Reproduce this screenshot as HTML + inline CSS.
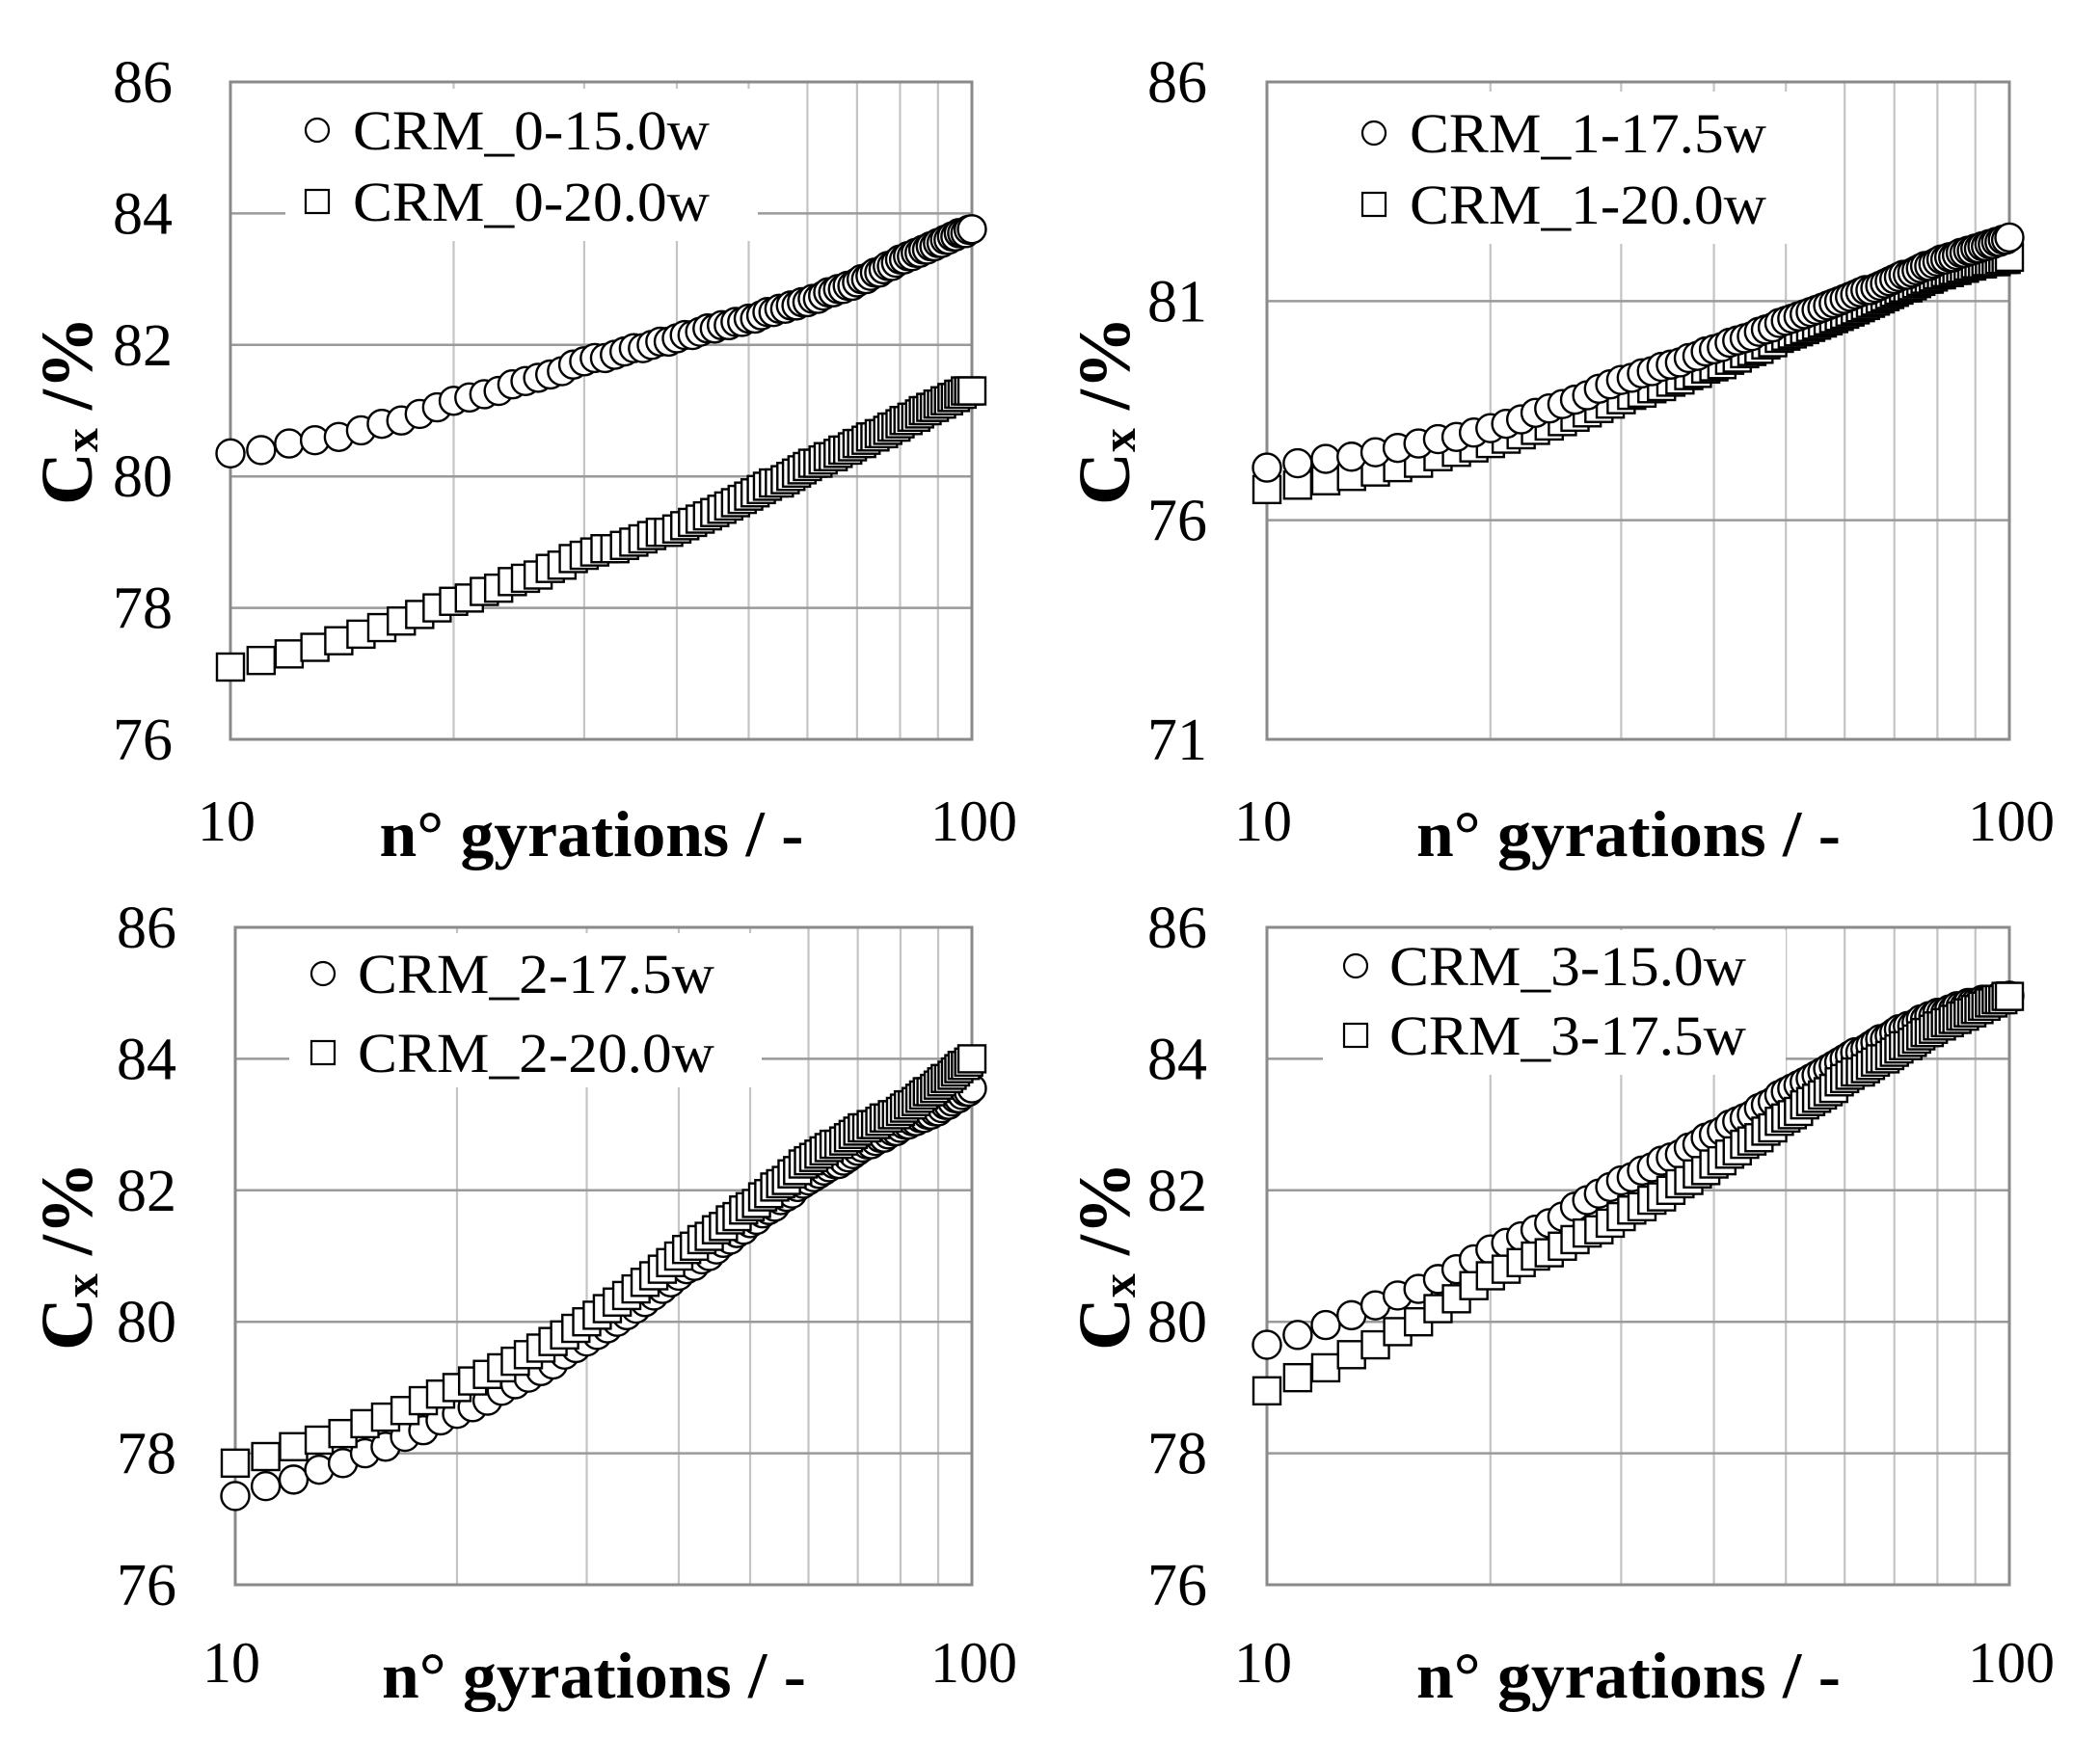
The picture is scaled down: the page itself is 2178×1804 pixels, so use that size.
<!DOCTYPE html>
<html><head><meta charset="utf-8"><style>
html,body{margin:0;padding:0;background:#fff}
svg{display:block}
text{font-family:"Liberation Serif",serif;fill:#000}
</style></head>
<body>
<svg id="fig" width="2178" height="1804" viewBox="0 0 2178 1804" xmlns="http://www.w3.org/2000/svg"></svg>
<script>
const gyrations = Array.from({length:91},(_, i)=>10+i);
const p1Circle=[80.35,80.4,80.5,80.55,80.6,80.7,80.8,80.85,80.95,81.05,81.15,81.2,81.25,81.3,81.4,81.45,81.5,81.55,81.6,81.7,81.75,81.8,81.8,81.85,81.9,81.95,81.95,82.0,82.05,82.05,82.1,82.15,82.15,82.2,82.25,82.25,82.3,82.3,82.35,82.35,82.4,82.4,82.45,82.5,82.5,82.55,82.55,82.6,82.6,82.65,82.65,82.7,82.7,82.75,82.8,82.8,82.85,82.85,82.9,82.9,82.95,83.0,83.0,83.05,83.1,83.1,83.15,83.2,83.2,83.25,83.3,83.3,83.35,83.35,83.4,83.4,83.45,83.45,83.5,83.5,83.55,83.55,83.6,83.6,83.65,83.65,83.7,83.7,83.7,83.75,83.76];
const p1Square=[77.1,77.2,77.3,77.4,77.5,77.6,77.7,77.8,77.9,78.0,78.1,78.15,78.25,78.3,78.4,78.45,78.5,78.6,78.65,78.75,78.8,78.85,78.9,78.9,78.95,79.0,79.05,79.1,79.15,79.15,79.2,79.25,79.3,79.35,79.4,79.45,79.5,79.55,79.6,79.65,79.7,79.75,79.8,79.85,79.9,79.9,79.95,80.0,80.05,80.1,80.15,80.2,80.2,80.25,80.3,80.3,80.35,80.4,80.4,80.45,80.5,80.5,80.55,80.6,80.6,80.65,80.65,80.7,80.75,80.75,80.8,80.85,80.85,80.9,80.9,80.95,81.0,81.0,81.05,81.05,81.1,81.1,81.15,81.15,81.2,81.2,81.25,81.25,81.3,81.3,81.3];
const p2Circle=[77.2,77.3,77.4,77.45,77.55,77.65,77.75,77.85,77.9,78.0,78.1,78.2,78.3,78.45,78.55,78.65,78.75,78.85,79.0,79.1,79.2,79.25,79.35,79.4,79.5,79.55,79.6,79.7,79.75,79.85,79.9,79.95,80.05,80.1,80.15,80.2,80.3,80.35,80.4,80.5,80.55,80.6,80.65,80.7,80.75,80.8,80.85,80.9,80.95,81.0,81.05,81.1,81.15,81.2,81.25,81.25,81.3,81.35,81.4,81.45,81.5,81.55,81.6,81.6,81.65,81.7,81.75,81.8,81.8,81.85,81.9,81.95,81.95,82.0,82.0,82.05,82.1,82.1,82.15,82.15,82.2,82.2,82.25,82.25,82.3,82.3,82.35,82.35,82.4,82.4,82.45];
const p2Square=[76.7,76.8,76.9,77.0,77.1,77.2,77.3,77.45,77.55,77.65,77.75,77.85,77.95,78.05,78.15,78.25,78.35,78.45,78.55,78.65,78.75,78.85,78.9,79.0,79.05,79.15,79.2,79.3,79.35,79.45,79.5,79.55,79.65,79.7,79.8,79.85,79.9,80.0,80.05,80.15,80.2,80.25,80.3,80.35,80.4,80.45,80.5,80.55,80.6,80.65,80.7,80.75,80.8,80.85,80.9,80.95,81.0,81.05,81.1,81.15,81.2,81.25,81.3,81.3,81.35,81.4,81.45,81.5,81.5,81.55,81.6,81.6,81.65,81.65,81.7,81.7,81.75,81.75,81.8,81.8,81.85,81.85,81.85,81.9,81.9,81.9,81.9,81.95,81.95,81.95,82.0];
const p3Circle=[77.35,77.5,77.6,77.75,77.85,78.0,78.1,78.25,78.35,78.5,78.6,78.7,78.8,78.95,79.05,79.15,79.25,79.35,79.5,79.6,79.7,79.8,79.9,80.0,80.1,80.2,80.3,80.4,80.5,80.6,80.7,80.8,80.85,80.95,81.0,81.1,81.2,81.25,81.35,81.4,81.5,81.55,81.65,81.7,81.75,81.85,81.9,81.95,82.05,82.1,82.15,82.2,82.25,82.3,82.35,82.4,82.4,82.45,82.5,82.55,82.6,82.65,82.7,82.7,82.75,82.8,82.8,82.85,82.9,82.9,82.95,83.0,83.0,83.05,83.05,83.1,83.1,83.15,83.15,83.2,83.2,83.25,83.3,83.3,83.35,83.4,83.4,83.45,83.5,83.5,83.55];
const p3Square=[77.85,77.95,78.1,78.2,78.3,78.45,78.55,78.65,78.8,78.9,79.0,79.1,79.2,79.3,79.4,79.5,79.6,79.7,79.8,79.9,80.0,80.1,80.2,80.3,80.4,80.5,80.6,80.7,80.8,80.9,81.0,81.1,81.15,81.25,81.3,81.4,81.45,81.55,81.6,81.7,81.75,81.8,81.9,81.95,82.05,82.1,82.15,82.25,82.3,82.4,82.45,82.5,82.55,82.6,82.65,82.7,82.7,82.75,82.8,82.85,82.9,82.95,82.95,83.0,83.0,83.05,83.1,83.1,83.15,83.15,83.2,83.25,83.3,83.3,83.35,83.4,83.45,83.5,83.5,83.55,83.6,83.65,83.7,83.7,83.75,83.8,83.85,83.9,83.9,83.95,84.0];
const p4Circle=[79.65,79.8,79.95,80.1,80.25,80.4,80.5,80.65,80.8,80.95,81.1,81.2,81.3,81.4,81.5,81.6,81.75,81.85,81.95,82.05,82.15,82.2,82.3,82.35,82.45,82.5,82.55,82.65,82.7,82.8,82.85,82.9,83.0,83.05,83.1,83.15,83.25,83.3,83.35,83.45,83.5,83.55,83.6,83.65,83.7,83.75,83.8,83.85,83.9,83.95,84.0,84.05,84.1,84.1,84.15,84.2,84.25,84.3,84.3,84.35,84.4,84.45,84.45,84.5,84.5,84.55,84.6,84.6,84.65,84.65,84.7,84.7,84.7,84.75,84.75,84.8,84.8,84.8,84.85,84.85,84.85,84.85,84.9,84.9,84.9,84.9,84.9,84.95,84.95,84.95,84.96];
const p4Square=[78.95,79.15,79.3,79.5,79.65,79.85,80.0,80.2,80.35,80.55,80.7,80.8,80.9,81.0,81.05,81.15,81.25,81.35,81.4,81.5,81.6,81.7,81.75,81.85,81.9,82.0,82.1,82.15,82.25,82.3,82.4,82.45,82.55,82.6,82.7,82.75,82.8,82.9,82.95,83.05,83.1,83.15,83.2,83.3,83.35,83.4,83.45,83.5,83.55,83.65,83.7,83.75,83.8,83.8,83.85,83.9,83.95,84.0,84.0,84.05,84.1,84.15,84.2,84.2,84.25,84.3,84.35,84.4,84.4,84.45,84.5,84.5,84.55,84.55,84.6,84.6,84.65,84.65,84.7,84.7,84.75,84.75,84.8,84.8,84.85,84.85,84.9,84.9,84.9,84.95,84.95];
const yTicksA=[76,78,80,82,84,86];
const yTicksB=[71,76,81,86];
const xTickLabels=["10","100"];
const legendNames=[["CRM_0-15.0w","CRM_0-20.0w"],["CRM_1-17.5w","CRM_1-20.0w"],["CRM_2-17.5w","CRM_2-20.0w"],["CRM_3-15.0w","CRM_3-17.5w"]];

const NS="http://www.w3.org/2000/svg";
const svg=document.getElementById('fig');
function mk(tag,attrs,parent){const e=document.createElementNS(NS,tag);for(const k in attrs)e.setAttribute(k,attrs[k]);(parent||svg).appendChild(e);return e;}

const panels=[
 {x0:239,x1:1008,y0:85,y1:767,ymin:76,ymax:86,ticks:yTicksA,circ:p1Circle,sq:p1Square,lab:179,ytx:70,leg:[329,135,366,209],names:legendNames[0],box:[296,92,490,158],xl:872,xt:888},
 {x0:1314,x1:2084,y0:85,y1:767,ymin:71,ymax:86,ticks:yTicksB,circ:p2Circle,sq:p2Square,lab:1252,ytx:1146,leg:[1425,138,1462,212],names:legendNames[1],box:[1392,95,490,158],xl:872,xt:888},
 {x0:244,x1:1008,y0:962,y1:1644,ymin:76,ymax:86,ticks:yTicksA,circ:p3Circle,sq:p3Square,lab:183,ytx:70,leg:[335,1010,371,1092],names:legendNames[2],box:[300,968,490,160],xl:1745,xt:1761},
 {x0:1314,x1:2084,y0:962,y1:1644,ymin:76,ymax:86,ticks:yTicksA,circ:p4Circle,sq:p4Square,lab:1252,ytx:1146,leg:[1406,1002,1441,1074],names:legendNames[3],box:[1372,965,480,150],xl:1745,xt:1761}
];

panels.forEach((p,pi)=>{
  const g=mk('g',{});
  
  
  const xs=v=>p.x0+(Math.log10(v)-1)*(p.x1-p.x0);
  const ys=v=>p.y1-(v-p.ymin)/(p.ymax-p.ymin)*(p.y1-p.y0);
  for(let n=20;n<=90;n+=10){
    const l=mk('line',{x1:xs(n),x2:xs(n),y1:p.y0,y2:p.y1,stroke:'#c4c4c4','stroke-width':2.2},g);
    
    
  }
  p.ticks.forEach(t=>{
    const l=mk('line',{x1:p.x0,x2:p.x1,y1:ys(t),y2:ys(t),stroke:'#9a9a9a','stroke-width':2.5},g);
    
    
    const tx=mk('text',{x:p.lab,y:ys(t)+21,'text-anchor':'end','font-size':62},g);
    tx.textContent=t;
    
    
  });
  const fr=mk('rect',{x:p.x0,y:p.y0,width:p.x1-p.x0,height:p.y1-p.y0,fill:'none',stroke:'#8a8a8a','stroke-width':3},g);
  
  
  xTickLabels.forEach((s,i)=>{
    const t=mk('text',{x:i?p.x1+2:p.x0-4,y:p.xl,'text-anchor':'middle','font-size':60},g);
    t.textContent=s;
    
    
  });
  const xt=mk('text',{x:(p.x0+p.x1)/2-10,y:p.xt,'text-anchor':'middle','font-size':68,'font-weight':'bold',textLength:440,lengthAdjust:'spacingAndGlyphs'},g);
  xt.textContent='n° gyrations / -';
  
  
  const cy=(p.y0+p.y1)/2;
  const yt=mk('text',{x:p.ytx,y:cy,transform:`rotate(-90 ${p.ytx} ${cy})`,'text-anchor':'middle','font-size':76,'font-weight':'bold','dominant-baseline':'central'},g);
  yt.innerHTML='C<tspan font-size="50" dy="14">x</tspan><tspan dy="-14"> /%</tspan>';
  
  
  const lg=mk('g',{},g);
  
  
  mk('rect',{x:p.box[0],y:p.box[1],width:p.box[2],height:p.box[3],fill:'#fff'},lg);
  const [cx,c1y,tx0,c2y]=p.leg;
  const lc=mk('circle',{cx:cx,cy:c1y,r:12,fill:'#fff',stroke:'#000','stroke-width':2.2},lg);
  
  
  const ls=mk('rect',{x:cx-12,y:c2y-12,width:24,height:24,fill:'#fff',stroke:'#000','stroke-width':2.2},lg);
  
  
  [c1y,c2y].forEach((yy,i)=>{
    const t=mk('text',{x:tx0,y:yy+20,'font-size':58,textLength:370,lengthAdjust:'spacingAndGlyphs'},lg);
    t.textContent=p.names[i];
    
    
  });
  const sg=mk('g',{},g);
  
  
  const cg=mk('g',{},g);
  
  
  gyrations.forEach((n,i)=>{
    const s=mk('rect',{x:xs(n)-14,y:ys(p.sq[i])-14,width:28,height:28,fill:'#fff',stroke:'#000','stroke-width':2.4},sg);
    
    
    const c=mk('circle',{cx:xs(n),cy:ys(p.circ[i]),r:14.5,fill:'#fff',stroke:'#000','stroke-width':2.4},cg);
    
    
  });
  if(pi===2||pi===3){g.appendChild(cg);g.appendChild(sg);}
});
</script>
</body></html>
